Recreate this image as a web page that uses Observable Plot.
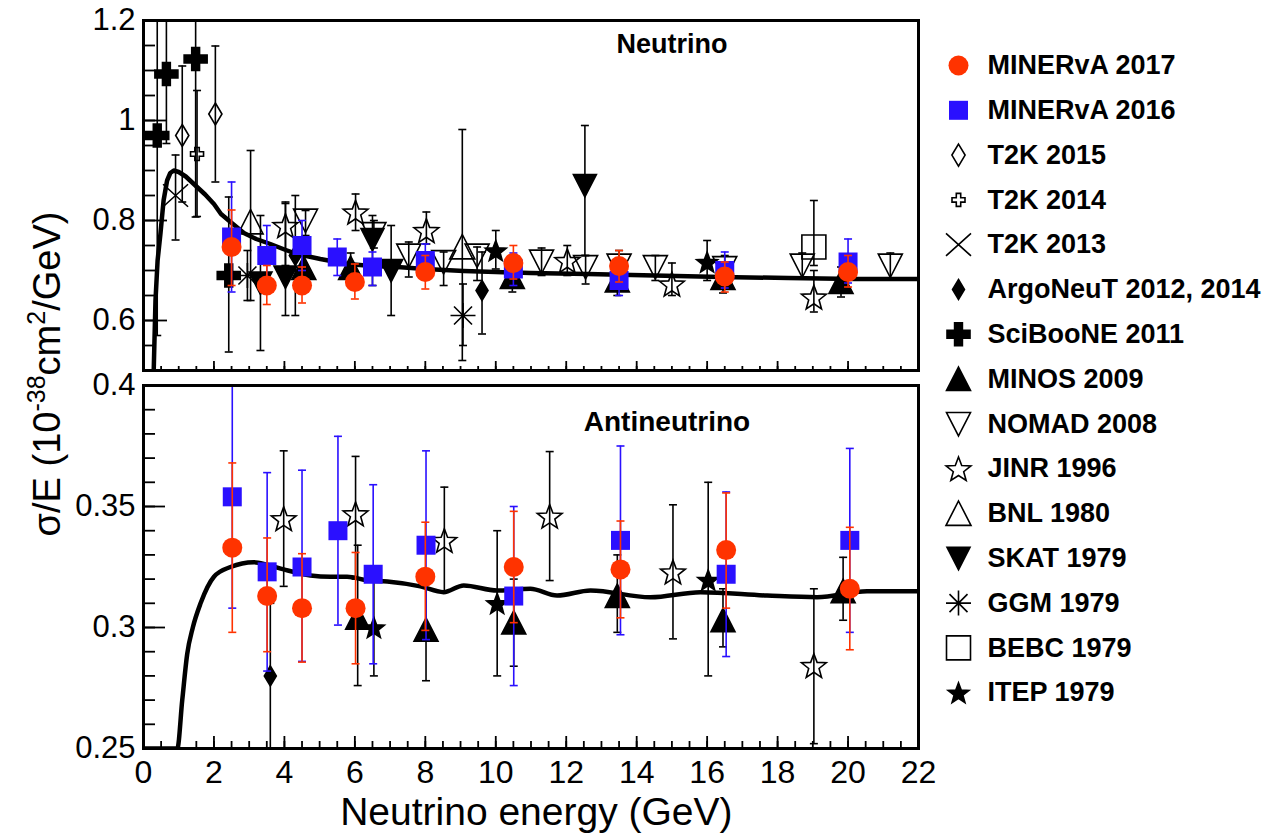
<!DOCTYPE html>
<html><head><meta charset="utf-8">
<script src="https://cdn.jsdelivr.net/npm/d3@7"></script>
<script src="https://cdn.jsdelivr.net/npm/@observablehq/plot@0.6"></script>
<style>
body{margin:0;background:#fff;}
#fig{position:relative;width:1266px;height:836px;font-family:"Liberation Sans",Arial,Helvetica,sans-serif;}
#fig > *{position:absolute;}
</style></head><body><div id="fig"></div>
<script>
// ---------- tick labels ----------
const xTickLabels = [0, 2, 4, 6, 8, 10, 12, 14, 16, 18, 20, 22];
const nuTickLabels = [0.6, 0.8, 1, 1.2];
const nubarTickLabels = [0.25, 0.3, 0.35, 0.4];

// ---------- series names (legend order) ----------
const seriesNames = ["MINERvA 2017", "MINERvA 2016", "T2K 2015", "T2K 2014", "T2K 2013",
  "ArgoNeuT 2012, 2014", "SciBooNE 2011", "MINOS 2009", "NOMAD 2008", "JINR 1996",
  "BNL 1980", "SKAT 1979", "GGM 1979", "BEBC 1979", "ITEP 1979"];

// ---------- neutrino data: [E (GeV), sigma/E, bar low, bar high] ----------
const minerva2017Nu = [[2.5,0.747,0.670,0.821],[3.5,0.670,0.632,0.710],[4.5,0.670,0.635,0.707],[6.0,0.677,0.643,0.713],[8.0,0.697,0.663,0.730],[10.5,0.715,0.683,0.750],[13.5,0.709,0.677,0.740],[16.5,0.688,0.657,0.717],[20.0,0.697,0.667,0.730]];
const minerva2016Nu = [[2.5,0.767,0.657,0.877],[3.5,0.730,0.670,0.790],[4.5,0.750,0.700,0.800],[5.5,0.727,0.690,0.763],[6.5,0.707,0.670,0.737],[8.0,0.720,0.690,0.753],[10.5,0.703,0.670,0.735],[13.5,0.680,0.650,0.715],[16.5,0.700,0.665,0.737],[20.0,0.717,0.675,0.763]];
const t2k2015Nu = [[1.1,0.970,0.837,1.109],[2.04,1.013,0.877,1.149]];
const t2k2014Nu = [[1.52,0.933,0.808,1.060]];
const t2k2013Nu = [[0.91,0.850,0.761,0.931]];
const argoneutNu = [[4.31,0.730,0.610,0.850],[9.61,0.660,0.573,0.737]];
const sciboneNu = [[0.39,0.970,0.570,1.350],[0.65,1.093,0.954,1.350],[1.48,1.123,0.807,1.400],[2.42,0.690,0.537,0.847]];
const minosNu = [[4.55,0.705,0.675,0.735],[5.88,0.705,0.675,0.735],[10.47,0.687,0.657,0.717],[13.45,0.680,0.650,0.710],[16.45,0.685,0.655,0.715],[19.8,0.677,0.647,0.707]];
const nomadNu = [[4.6,0.800,0.770,0.820],[6.54,0.773,0.745,0.800],[7.53,0.730,0.687,0.757],[8.52,0.717,0.670,0.737],[9.47,0.730,0.680,0.747],[11.3,0.718,0.690,0.745],[12.55,0.707,0.673,0.730],[13.5,0.710,0.680,0.740],[14.53,0.707,0.680,0.730],[16.5,0.705,0.680,0.730],[18.7,0.710,0.685,0.735],[21.2,0.710,0.685,0.735]];
const jinrNu = [[4.03,0.790,0.710,0.837],[6.02,0.817,0.780,0.853],[8.03,0.780,0.753,0.817],[12.03,0.720,0.690,0.750],[15.0,0.673,0.650,0.715],[19.03,0.647,0.617,0.700]];
const bnlNu = [[3.04,0.797,0.640,0.940],[9.05,0.747,0.520,0.982]];
const skatNu = [[3.32,0.675,0.540,0.810],[4.03,0.687,0.610,0.834],[6.5,0.762,0.670,0.810],[7.03,0.700,0.610,0.790],[12.53,0.870,0.730,0.990]];
const ggmNu = [[2.95,0.690,0.640,0.740],[9.07,0.610,0.550,0.673]];
const bebcNu = [[19.03,0.747,0.710,0.840]];
const itepNu = [[10.0,0.740,0.703,0.780],[16.0,0.717,0.680,0.760]];

// ---------- antineutrino data ----------
const minerva2017Nubar = [[2.52,0.333,0.298,0.368],[3.51,0.313,0.290,0.337],[4.5,0.308,0.2857,0.3305],[6.02,0.308,0.285,0.331],[8.0,0.321,0.2988,0.3435],[10.51,0.325,0.302,0.348],[13.54,0.324,0.304,0.344],[16.54,0.332,0.308,0.3556],[20.05,0.316,0.2908,0.3414]];
const minerva2016Nubar = [[2.52,0.354,0.308,0.400],[3.51,0.323,0.282,0.364],[4.5,0.325,0.286,0.365],[5.52,0.340,0.301,0.379],[6.52,0.322,0.285,0.359],[8.02,0.334,0.295,0.373],[10.51,0.313,0.276,0.350],[13.54,0.336,0.297,0.375],[16.54,0.322,0.288,0.356],[20.05,0.336,0.298,0.374]];
const jinrNubar = [[3.98,0.345,0.317,0.373],[6.02,0.347,0.320,0.3707],[8.54,0.336,0.3146,0.358],[11.53,0.346,0.3194,0.3727],[15.03,0.323,0.2953,0.3507],[19.03,0.2843,0.252,0.316]];
const minosNubar = [[6.08,0.304,0.276,0.334],[8.02,0.299,0.278,0.320],[10.51,0.302,0.284,0.320],[13.45,0.313,0.298,0.330],[16.45,0.303,0.292,0.316],[19.86,0.315,0.303,0.329]];
const itepNubar = [[6.54,0.300,0.280,0.320],[10.04,0.310,0.280,0.340],[16.03,0.3197,0.280,0.360]];
const argoneutNubar = [[3.6,0.280,0.240,0.310]];

// ---------- prediction curves ----------
const nuCurveE = [0.27,0.29,0.34,0.40,0.48,0.57,0.67,0.76,0.86,1.0,1.2,1.52,1.75,2.0,2.2,2.47,2.85,3.2,3.6,4.0,4.36,5.02,5.78,6.5,7.2,8.0,9.09,10.0,10.98,12.6,14.5,16.4,18.3,20.2,22];
const nuCurveV = [0.47,0.50,0.64,0.72,0.773,0.84,0.88,0.895,0.900,0.897,0.888,0.867,0.852,0.833,0.813,0.797,0.775,0.763,0.753,0.742,0.733,0.723,0.713,0.709,0.707,0.703,0.699,0.697,0.695,0.693,0.690,0.687,0.685,0.683,0.683];
const nubarCurveE = [0,0.96,1.1,1.24,1.4,1.62,2.0,2.47,3.13,3.5,3.98,4.74,5.31,5.78,6.35,6.92,7.86,8.52,9.09,10.04,10.98,11.74,12.69,14.39,15.81,17.7,19.12,20.54,22];
const nubarCurveV = [0.25,0.25,0.27,0.289,0.300,0.310,0.321,0.325,0.327,0.326,0.324,0.3215,0.321,0.321,0.3195,0.319,0.317,0.3146,0.3174,0.3153,0.316,0.3132,0.3153,0.3125,0.3146,0.3132,0.3125,0.315,0.315];

// ---------- styles ----------
const RED = "#ff3300", BLUE = "#2a10ff";
const shape = pts => ({draw(c, s) { const r = Math.sqrt(s / Math.PI); pts.forEach(([a, b], i) => i ? c.lineTo(a * r, b * r) : c.moveTo(a * r, b * r)); c.closePath(); }});
const lines = segs => ({draw(c, s) { const r = Math.sqrt(s / Math.PI); for (const [a, b, e, f] of segs) { c.moveTo(a * r, b * r); c.lineTo(e * r, f * r); } }});
const SYM = {
  square: shape([[-1,-1],[1,-1],[1,1],[-1,1]]),
  diamond: shape([[0,-1],[0.6,0],[0,1],[-0.6,0]]),
  cross: shape([[-.34,-1],[.34,-1],[.34,-.34],[1,-.34],[1,.34],[.34,.34],[.34,1],[-.34,1],[-.34,.34],[-1,.34],[-1,-.34],[-.34,-.34]]),
  triUp: shape([[0,-1],[1,0.95],[-1,0.95]]),
  triDown: shape([[0,1],[1,-0.95],[-1,-0.95]]),
  star: shape(d3.range(10).map(i => { const a = -Math.PI / 2 + i * Math.PI / 5, k = i % 2 ? 0.42 : 1; return [k * Math.cos(a), k * Math.sin(a) + 0.1]; })),
  times: lines([[-1,-0.9,1,0.9],[-1,0.9,1,-0.9]]),
  asterisk: lines([[-1,0,1,0],[0,-1,0,1],[-.72,-.72,.72,.72],[-.72,.72,.72,-.72]]),
  cap: lines([[-1,0,1,0]])
};
const STYLE = {
  "MINERvA 2017": {symbol: "circle", r: 10, fill: RED, stroke: "none", bar: RED},
  "MINERvA 2016": {symbol: SYM.square, r: 9.5, fill: BLUE, stroke: "none", bar: BLUE},
  "T2K 2015": {symbol: SYM.diamond, r: 11, fill: "none", stroke: "black"},
  "T2K 2014": {symbol: SYM.cross, r: 6.5, fill: "none", stroke: "black"},
  "T2K 2013": {symbol: SYM.times, r: 12.5, fill: "none", stroke: "black"},
  "ArgoNeuT 2012, 2014": {symbol: SYM.diamond, r: 10, fill: "black", stroke: "black"},
  "SciBooNE 2011": {symbol: SYM.cross, r: 11.5, fill: "black", stroke: "black"},
  "MINOS 2009": {symbol: SYM.triUp, r: 12, fill: "black", stroke: "black"},
  "NOMAD 2008": {symbol: SYM.triDown, r: 12, fill: "none", stroke: "black"},
  "JINR 1996": {symbol: SYM.star, r: 13, fill: "none", stroke: "black"},
  "BNL 1980": {symbol: SYM.triUp, r: 12.5, fill: "none", stroke: "black"},
  "SKAT 1979": {symbol: SYM.triDown, r: 11.5, fill: "black", stroke: "black"},
  "GGM 1979": {symbol: SYM.asterisk, r: 12.5, fill: "none", stroke: "black"},
  "BEBC 1979": {symbol: SYM.square, r: 12, fill: "none", stroke: "black"},
  "ITEP 1979": {symbol: SYM.star, r: 11, fill: "black", stroke: "black"}
};

const rows = arr => arr.map(([x, y, lo, hi]) => ({x, y, lo, hi}));
function seriesMarks(name, arr) {
  const s = STYLE[name], d = rows(arr), bar = s.bar || "black";
  return [
    Plot.ruleX(d, {x: "x", y1: "lo", y2: "hi", stroke: bar, strokeWidth: 1.6, clip: true}),
    Plot.dot(d, {x: "x", y: "lo", symbol: SYM.cap, r: 4, stroke: bar, strokeWidth: 1.6, clip: true}),
    Plot.dot(d, {x: "x", y: "hi", symbol: SYM.cap, r: 4, stroke: bar, strokeWidth: 1.6, clip: true}),
    Plot.dot(d, {x: "x", y: "y", symbol: s.symbol, r: s.r, fill: s.fill, stroke: s.stroke, strokeWidth: 1.6, strokeLinejoin: "miter", clip: true})
  ];
}
const curve = (E, V) => E.map((e, i) => ({e, v: V[i]}));
const fmt = d => String(+d.toFixed(3));
const STY = {fontFamily: '"Liberation Sans", Arial, Helvetica, sans-serif', background: "transparent", overflow: "visible"};
const W = 940, ML = 143, MR = 22, FW = W - ML - MR;
const xMinor = d3.range(0, 22.01, 0.5);

// ---------- neutrino panel ----------
const nuOthers = [["T2K 2013", t2k2013Nu], ["T2K 2015", t2k2015Nu], ["T2K 2014", t2k2014Nu], ["SciBooNE 2011", sciboneNu],
  ["BNL 1980", bnlNu], ["GGM 1979", ggmNu], ["BEBC 1979", bebcNu], ["JINR 1996", jinrNu], ["NOMAD 2008", nomadNu],
  ["ArgoNeuT 2012, 2014", argoneutNu], ["SKAT 1979", skatNu], ["ITEP 1979", itepNu], ["MINOS 2009", minosNu]];
const H1 = 378, MT1 = 20, MB1 = 8, FH1 = H1 - MT1 - MB1;
const topPlot = Plot.plot({
  width: W, height: H1, marginLeft: ML, marginRight: MR, marginTop: MT1, marginBottom: MB1,
  x: {domain: [0, 22], axis: null}, y: {domain: [0.5, 1.2]}, style: STY,
  marks: [
    ...nuOthers.flatMap(([n, a]) => seriesMarks(n, a)),
    Plot.line(curve(nuCurveE, nuCurveV), {x: "e", y: "v", stroke: "black", strokeWidth: 4.5, clip: true}),
    ...seriesMarks("MINERvA 2016", minerva2016Nu),
    ...seriesMarks("MINERvA 2017", minerva2017Nu),
    Plot.tickY(d3.range(0.55, 1.2, 0.05), {y: d => d, insetRight: FW - 12, strokeWidth: 1.8}),
    Plot.tickY(nuTickLabels, {y: d => d, insetRight: FW - 24, strokeWidth: 1.8}),
    Plot.tickX(xMinor, {x: d => d, insetTop: FH1 - 4, strokeWidth: 1.8}),
    Plot.tickX(xTickLabels, {x: d => d, insetTop: FH1 - 9, strokeWidth: 1.8}),
    Plot.axisY({ticks: nuTickLabels, tickSize: 0, tickPadding: 8, fontSize: 31, tickFormat: fmt}),
    Plot.text(["Neutrino"], {frameAnchor: "top", dx: 141, dy: 24, lineAnchor: "middle", fontWeight: "bold", fontSize: 27}),
    Plot.frame({stroke: "black", strokeWidth: 3})
  ]
});

// ---------- antineutrino panel ----------
const nubarOthers = [["ArgoNeuT 2012, 2014", argoneutNubar], ["JINR 1996", jinrNubar], ["ITEP 1979", itepNubar], ["MINOS 2009", minosNubar]];
const H2 = 458, MT2 = 7, MB2 = 88, FH2 = H2 - MT2 - MB2;
const botPlot = Plot.plot({
  width: W, height: H2, marginLeft: ML, marginRight: MR, marginTop: MT2, marginBottom: MB2,
  x: {domain: [0, 22]}, y: {domain: [0.25, 0.4]}, style: STY,
  marks: [
    ...nubarOthers.flatMap(([n, a]) => seriesMarks(n, a)),
    Plot.line(curve(nubarCurveE, nubarCurveV), {x: "e", y: "v", stroke: "black", strokeWidth: 4.5, clip: true, curve: "monotone-x"}),
    ...seriesMarks("MINERvA 2016", minerva2016Nubar),
    ...seriesMarks("MINERvA 2017", minerva2017Nubar),
    Plot.tickY(d3.range(0.26, 0.4, 0.01), {y: d => d, insetRight: FW - 12, strokeWidth: 1.8}),
    Plot.tickY(nubarTickLabels, {y: d => d, insetRight: FW - 22, strokeWidth: 1.8}),
    Plot.tickX(xMinor, {x: d => d, insetTop: FH2 - 7, strokeWidth: 1.8}),
    Plot.tickX(xTickLabels, {x: d => d, insetTop: FH2 - 12, strokeWidth: 1.8}),
    Plot.axisY({ticks: nubarTickLabels, tickSize: 0, tickPadding: 8, fontSize: 31, tickFormat: fmt}),
    Plot.axisX({ticks: xTickLabels, tickSize: 0, tickPadding: 12, fontSize: 32, tickFormat: fmt, label: null}),
    Plot.text(["Neutrino energy (GeV)"], {frameAnchor: "bottom-right", dx: -186, dy: 64, textAnchor: "end", lineAnchor: "middle", fontSize: 39}),
    Plot.text(["Antineutrino"], {frameAnchor: "top", dx: 136, dy: 37, lineAnchor: "middle", fontWeight: "bold", fontSize: 28}),
    Plot.frame({stroke: "black", strokeWidth: 3})
  ]
});

// ---------- legend ----------
const legendPlot = Plot.plot({
  width: 336, height: 700, margin: 0,
  x: {domain: [0, 1], range: [28, 57], axis: null},
  y: {domain: [0, 14], range: [25, 25 + 14 * 44.8], axis: null},
  style: STY,
  marks: [
    ...seriesNames.map((n, i) => { const s = STYLE[n]; return Plot.dot([i], {x: 0, y: d => d, symbol: s.symbol, r: s.r, fill: s.fill, stroke: s.stroke, strokeWidth: 1.6, strokeLinejoin: "miter"}); }),
    Plot.text(seriesNames, {x: 1, y: (d, i) => i, text: d => d, textAnchor: "start", lineAnchor: "middle", fontWeight: "bold", fontSize: 27})
  ]
});

const fig = document.getElementById("fig");
topPlot.style.left = "0px"; topPlot.style.top = "0px";
botPlot.style.left = "0px"; botPlot.style.top = H1 + "px";
legendPlot.style.left = "930px"; legendPlot.style.top = "40px";
fig.append(topPlot, botPlot, legendPlot);

// ---------- y-axis title ----------
const ySvg = d3.create("svg").attr("width", 100).attr("height", 836).style("left", "0px").style("top", "0px").style("overflow", "visible");
const yt = ySvg.append("text").attr("transform", "translate(60,374) rotate(-90)").attr("text-anchor", "middle")
  .attr("font-family", '"Liberation Sans", Arial, Helvetica, sans-serif').attr("font-size", 38).attr("fill", "black");
yt.append("tspan").text("σ/E (10");
yt.append("tspan").attr("font-size", 25).attr("dy", -15).text("-38");
yt.append("tspan").attr("dy", 15).text("cm");
yt.append("tspan").attr("font-size", 25).attr("dy", -15).text("2");
yt.append("tspan").attr("dy", 15).text("/GeV)");
fig.append(ySvg.node());
</script></body></html>
